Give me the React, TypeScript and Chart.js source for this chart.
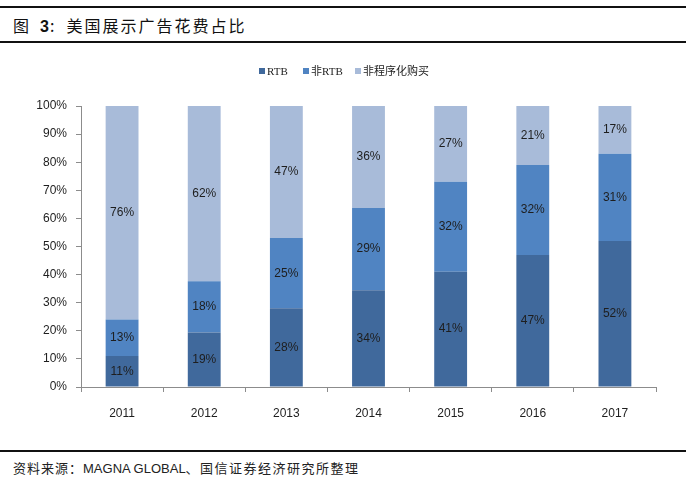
import React, { useEffect, useRef } from "react";
import { Chart, registerables } from "chart.js";

Chart.register(...registerables);

const categories = ["2011", "2012", "2013", "2014", "2015", "2016", "2017"];
const rtb = [11, 19.4, 28, 34.4, 41, 47, 52];
const nonRtb = [13, 18.2, 25, 29.3, 32, 32, 31];
const nonProgrammatic = [76, 62.4, 47, 36.3, 27, 21, 17];
const seriesNames = ["RTB", "非RTB", "非程序化购买"];
const seriesColors = ["#40699c", "#5084c2", "#a8bbd9"];

const W = 686;
const CH = 400;

export default function App() {
  const ref = useRef<HTMLCanvasElement | null>(null);
  useEffect(() => {
    document.body.style.margin = "0";
    const canvas = ref.current;
    if (!canvas) return;
    const labelPlugin = {
      id: "segLabels",
      afterDatasetsDraw(chart: any) {
        const ctx = chart.ctx;
        ctx.save();
        ctx.font = "12px 'Liberation Sans', Arial, sans-serif";
        ctx.fillStyle = "#1e1e1e";
        ctx.textAlign = "center";
        ctx.textBaseline = "middle";
        chart.data.datasets.forEach((ds: any, i: number) => {
          const meta = chart.getDatasetMeta(i);
          meta.data.forEach((bar: any, j: number) => {
            const v = ds.data[j];
            const y = (bar.y + bar.base) / 2;
            ctx.fillText(Math.round(v) + "%", bar.x, y);
          });
        });
        ctx.restore();
      },
    };
    const legendPlugin = {
      id: "customLegend",
      afterDraw(chart: any) {
        const ctx = chart.ctx;
        ctx.save();
        ctx.font = "11px 'Liberation Serif', 'DejaVu Serif', 'Noto Sans CJK SC', serif";
        ctx.textBaseline = "middle";
        const y = 22;
        const xs = [259, 303, 355];
        seriesNames.forEach((name, i) => {
          ctx.fillStyle = seriesColors[i];
          ctx.fillRect(xs[i], y - 4, 6, 6);
          ctx.fillStyle = "#222";
          ctx.fillText(name, xs[i] + 8, y);
        });
        ctx.restore();
      },
    };
    const chart = new Chart(canvas, {
      type: "bar",
      data: {
        labels: categories,
        datasets: [
          { label: seriesNames[0], data: rtb, backgroundColor: seriesColors[0], categoryPercentage: 1, barPercentage: 0.4 },
          { label: seriesNames[1], data: nonRtb, backgroundColor: seriesColors[1], categoryPercentage: 1, barPercentage: 0.4 },
          { label: seriesNames[2], data: nonProgrammatic, backgroundColor: seriesColors[2], categoryPercentage: 1, barPercentage: 0.4 },
        ],
      },
      options: {
        animation: false,
        responsive: false,
        devicePixelRatio: 1,
        layout: { padding: { top: 56, right: 30, left: 0, bottom: 0 } },
        plugins: { legend: { display: false }, tooltip: { enabled: false } },
        scales: {
          x: {
            stacked: true,
            border: { color: "#8c8c8c", width: 1 },
            grid: { drawOnChartArea: false, drawTicks: true, tickLength: 5, color: "#8c8c8c", offset: true },
            ticks: { color: "#1e1e1e", font: { family: "'Liberation Sans', Arial, sans-serif", size: 12 }, padding: 14 },
            afterFit(s: any) { s.height = 63; },
          },
          y: {
            stacked: true,
            min: 0,
            max: 100,
            border: { color: "#8c8c8c", width: 1 },
            grid: { drawOnChartArea: false, drawTicks: true, tickLength: 5, color: "#8c8c8c" },
            ticks: {
              stepSize: 10,
              color: "#1e1e1e",
              font: { family: "'Liberation Sans', Arial, sans-serif", size: 12 },
              padding: 9,
              callback: (v: any) => v + "%",
            },
            afterFit(s: any) { s.width = 81; },
          },
        },
      },
      plugins: [labelPlugin, legendPlugin],
    });
    return () => chart.destroy();
  }, []);

  const cjk = "'Noto Sans CJK SC', sans-serif";
  const latin = "'Liberation Sans', Arial, sans-serif";
  return (
    <div style={{ position: "relative", width: W, height: 478, background: "#fff", overflow: "hidden" }}>
      <div style={{ position: "absolute", left: 0, top: 6, width: W, height: 2, background: "#111" }} />
      <div style={{ position: "absolute", left: 13, top: 14, fontFamily: cjk, fontSize: 16, color: "#111", whiteSpace: "nowrap", lineHeight: "22px" }}>
        <span>图</span>
        <b style={{ fontFamily: latin, fontSize: 16, marginLeft: 11 }}>3</b>
        <span style={{ marginLeft: 1 }}>:</span>
        <span style={{ marginLeft: 12, letterSpacing: 2 }}>美国展示广告花费占比</span>
      </div>
      <div style={{ position: "absolute", left: 0, top: 41, width: W, height: 2, background: "#111" }} />
      <canvas ref={ref} width={W} height={CH} style={{ position: "absolute", left: 0, top: 50, width: W, height: CH }} />
      <div style={{ position: "absolute", left: 0, top: 450, width: W, height: 1.5, background: "#111" }} />
      <div style={{ position: "absolute", left: 13, top: 459, fontFamily: cjk, fontSize: 13, color: "#222", whiteSpace: "nowrap", lineHeight: "18px" }}>
        <span style={{ letterSpacing: 1 }}>资料来源：</span>
        <span style={{ fontFamily: latin }}>MAGNA GLOBAL</span>
        <span style={{ letterSpacing: 1.5 }}>、国信证券经济研究所整理</span>
      </div>
    </div>
  );
}
